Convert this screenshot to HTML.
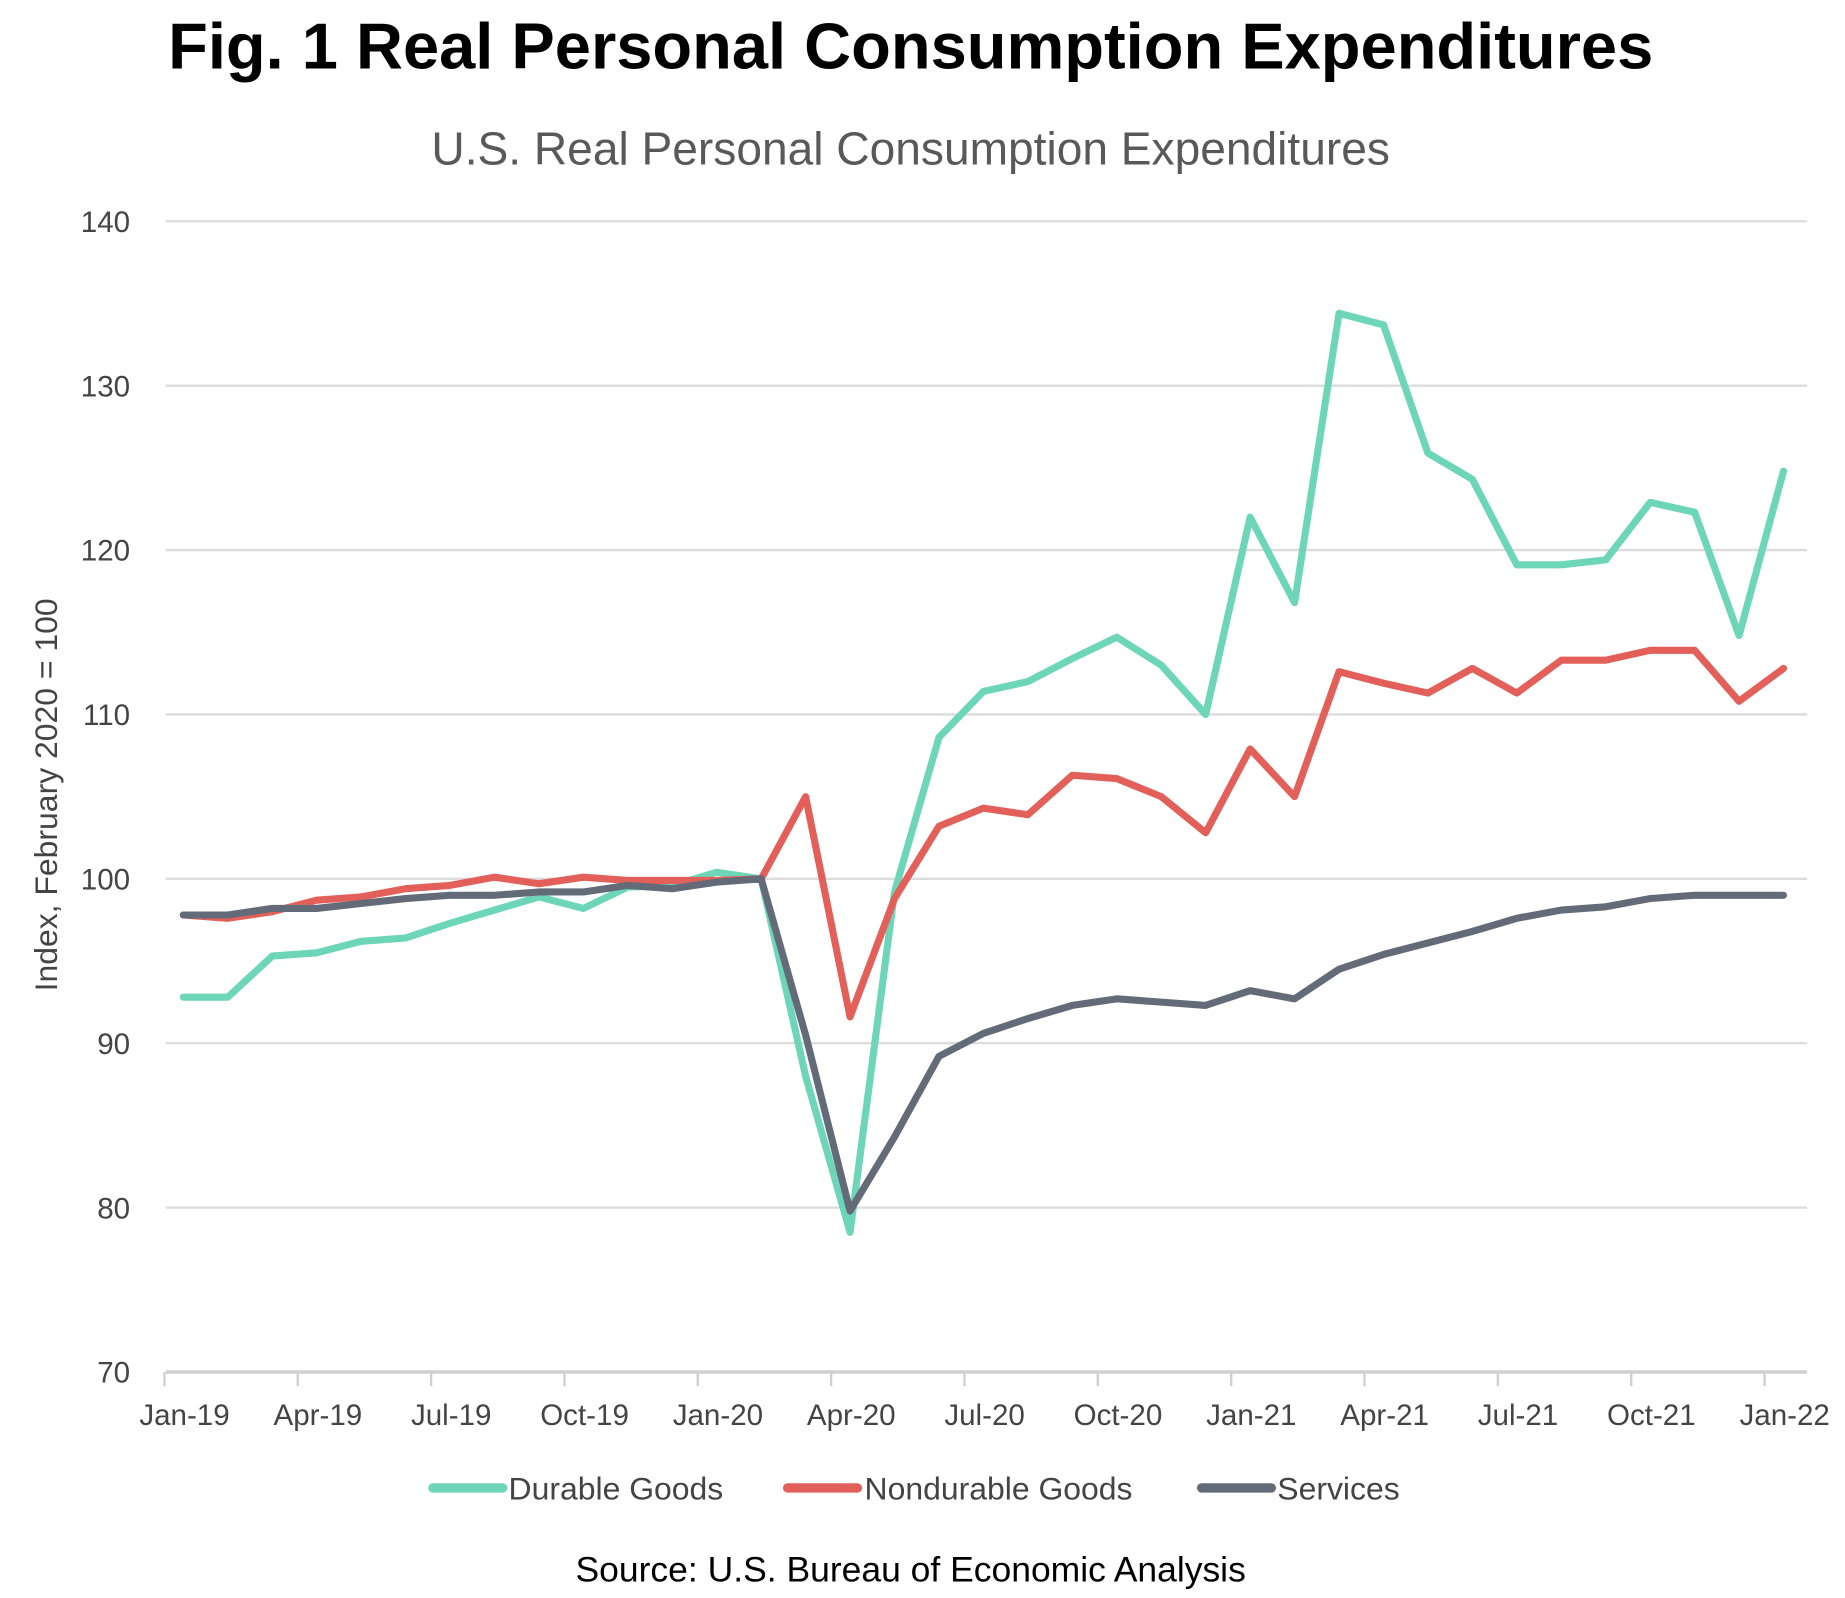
<!DOCTYPE html>
<html><head><meta charset="utf-8"><style>
html,body{margin:0;padding:0;background:#fff;}
svg{display:block;font-family:"Liberation Sans",sans-serif;}
</style></head><body>
<svg id="chart" width="1845" height="1598" viewBox="0 0 1560 1351" xmlns="http://www.w3.org/2000/svg">
<rect width="1560" height="1351" fill="#fff"/>
<text x="770" y="58" text-anchor="middle" font-size="55" font-weight="bold" fill="#000">Fig. 1 Real Personal Consumption Expenditures</text>
<text x="770" y="139" text-anchor="middle" font-size="39" fill="#595959">U.S. Real Personal Consumption Expenditures</text>
<text transform="translate(48,672) rotate(-90)" text-anchor="middle" font-size="27" fill="#444">Index, February 2020 = 100</text>
<g id="grid"></g><g id="xaxis"></g><g id="lines"></g>
<g>
<g><line x1="366" y1="1258" x2="425" y2="1258" stroke="#6dd5b8" stroke-width="8" stroke-linecap="round"/><text x="430" y="1268" font-size="27" fill="#444">Durable Goods</text></g>
<g><line x1="666" y1="1258" x2="725" y2="1258" stroke="#e3605a" stroke-width="8" stroke-linecap="round"/><text x="731" y="1268" font-size="27" fill="#444">Nondurable Goods</text></g>
<g><line x1="1016" y1="1258" x2="1075" y2="1258" stroke="#636b78" stroke-width="8" stroke-linecap="round"/><text x="1080" y="1268" font-size="27" fill="#444">Services</text></g>
</g>
<text x="770" y="1337" text-anchor="middle" font-size="30" fill="#000">Source: U.S. Bureau of Economic Analysis</text>
</svg>
<script>
const xLabels=["Jan-19","Apr-19","Jul-19","Oct-19","Jan-20","Apr-20","Jul-20","Oct-20","Jan-21","Apr-21","Jul-21","Oct-21","Jan-22"];
const yTicks=[70,80,90,100,110,120,130,140];
const durable=[92.8,92.8,95.3,95.5,96.2,96.4,97.3,98.1,98.9,98.2,99.5,99.6,100.4,100,88,78.5,99.2,108.6,111.4,112,113.4,114.7,113,110,122,116.8,134.4,133.7,125.9,124.3,119.1,119.1,119.4,122.9,122.3,114.8,124.8];
const nondurable=[97.8,97.6,98.0,98.7,98.9,99.4,99.6,100.1,99.7,100.1,99.9,99.9,99.9,100,105,91.6,98.8,103.2,104.3,103.9,106.3,106.1,105,102.8,107.9,105,112.6,111.9,111.3,112.8,111.3,113.3,113.3,113.9,113.9,110.8,112.8];
const services=[97.8,97.8,98.2,98.2,98.5,98.8,99,99,99.2,99.2,99.6,99.4,99.8,100,90.5,79.8,84.3,89.2,90.6,91.5,92.3,92.7,92.5,92.3,93.2,92.7,94.5,95.4,96.1,96.8,97.6,98.1,98.3,98.8,99,99,99];
const NS="http://www.w3.org/2000/svg";
const L=140,R=1528,T=187,B=1160;
function y(v){return B-(v-70)/70*(B-T);}
function xm(i){return 155+i*(1508-155)/36;}
function mk(tag,a,p){const e=document.createElementNS(NS,tag);for(const k in a)e.setAttribute(k,a[k]);p.appendChild(e);return e;}
const grid=document.getElementById('grid');
yTicks.forEach(v=>{
 const ln=mk('line',{x1:L,x2:R,y1:y(v),y2:y(v),stroke:v===70?'#d0d0d0':'#dcdcdc','stroke-width':v===70?3:2},grid);
 
 
 const t=mk('text',{x:110,y:y(v)+9,'text-anchor':'end','font-size':25,fill:'#444'},grid);
 t.textContent=v;
 
 
});
const xa=document.getElementById('xaxis');
xLabels.forEach((s,k)=>{
 const xt=xm(k*3)-16;
 const tk=mk('line',{x1:xt,x2:xt,y1:B,y2:B+12,stroke:'#d0d0d0','stroke-width':2},xa);
 
 
 const t=mk('text',{x:xt+17,y:B+45,'text-anchor':'middle','font-size':25,fill:'#444'},xa);
 t.textContent=s;
 
 
});
const lg=document.getElementById('lines');
[[durable,'#6dd5b8','durable-goods-line'],[nondurable,'#e3605a','nondurable-goods-line'],[services,'#636b78','services-line']].forEach(([d,c,n])=>{
 const p=mk('polyline',{points:d.map((v,i)=>xm(i)+','+y(v)).join(' '),fill:'none',stroke:c,'stroke-width':6,'stroke-linejoin':'round','stroke-linecap':'round'},lg);
 
 
});
</script>
</body></html>
